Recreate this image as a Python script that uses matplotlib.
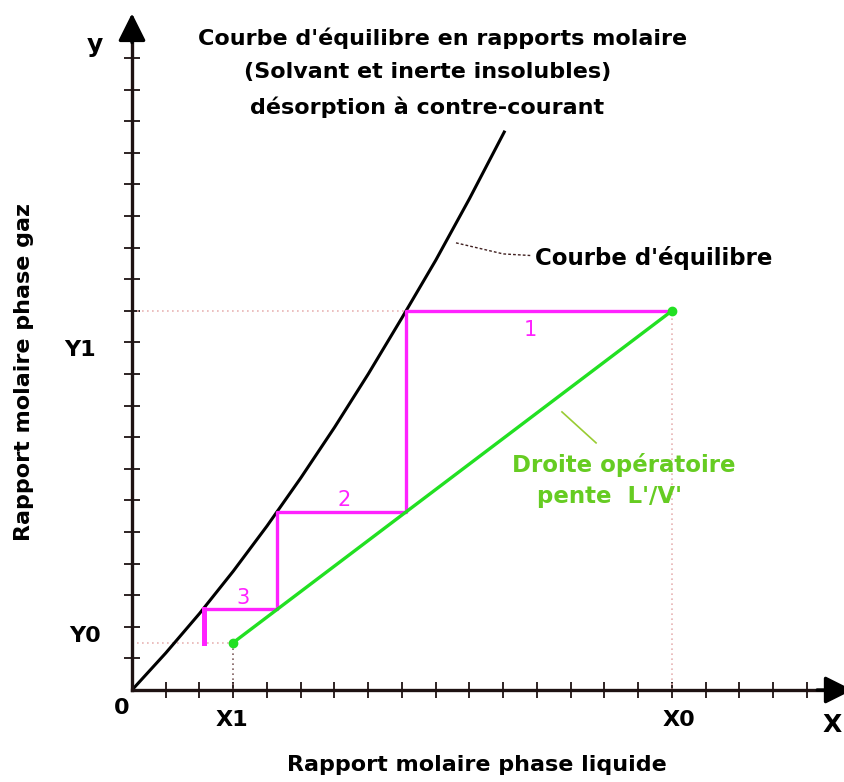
import matplotlib.pyplot as plt

# operating line end points (x in tick units, y in tick units)
X1, Y0 = 3.0, 1.5
X0, Y1 = 16.0, 12.0

# equilibrium curve
eq_x = [0, 1, 2, 3, 4, 5, 6, 7, 8, 9, 10, 11.05]
eq_y = [0, 1.17, 2.42, 3.76, 5.19, 6.71, 8.31, 10.0, 11.78, 13.6, 15.55, 17.7]

# McCabe-Thiele stairs (from X0,Y1 down to Y0)
stair_x = [16, 8.12, 8.12, 4.3, 4.3, 2.13, 2.13]
stair_y = [12, 12, 5.64, 5.64, 2.55, 2.55, 1.5]
stage_labels = ["1", "2", "3"]
stage_x = [11.8, 6.3, 3.3]
stage_y = [11.4, 6.0, 2.9]

tick_pos = list(range(1, 21))

W, H = 845, 782
fig = plt.figure(figsize=(W / 100, H / 100), dpi=100)
ax = fig.add_axes([0, 0, 1, 1])
# pixel mapping: px = 132 + 33.75*x, py = 690 - 31.6*y
ax.set_xlim(-132 / 33.75, (W - 132) / 33.75)
ax.set_ylim(-(H - 690) / 31.6, 690 / 31.6)

axis_col = "#1e1212"
for s in ["top", "right"]:
    ax.spines[s].set_visible(False)
ax.spines["left"].set_position(("data", 0))
ax.spines["bottom"].set_position(("data", 0))
ax.spines["left"].set_bounds(0, 20.7)
ax.spines["bottom"].set_bounds(0, 20.6)
for s in ["left", "bottom"]:
    ax.spines[s].set_linewidth(2.4)
    ax.spines[s].set_color(axis_col)
ax.set_xticks(tick_pos)
ax.set_yticks(tick_pos)
ax.set_xticklabels([])
ax.set_yticklabels([])
ax.tick_params(direction="inout", length=12, width=1.3, color=axis_col)

# arrow heads
ax.annotate("", xy=(0, 21.5), xytext=(0, 20.4), annotation_clip=False,
            arrowprops=dict(arrowstyle="-|>", mutation_scale=42, color="black", lw=2.4))
ax.annotate("", xy=(21.35, 0), xytext=(20.3, 0), annotation_clip=False,
            arrowprops=dict(arrowstyle="-|>", mutation_scale=42, color="black", lw=2.4,
                            shrinkA=0, shrinkB=0))

# dotted guides
guide = dict(color="#e8b4b4", lw=1.2, ls=(0, (1, 2)))
ax.plot([0, X0], [Y1, Y1], **guide)
ax.plot([X0, X0], [0, Y1], **guide)
ax.plot([0, X1], [Y0, Y0], **guide)
ax.plot([X1, X1], [0, Y0], color="#806060", lw=1.2, ls=(0, (1, 2)))

# equilibrium curve
ax.plot(eq_x, eq_y, color="black", lw=2.2, solid_capstyle="butt")

# stairs
ax.plot(stair_x[:-1], stair_y[:-1], color="#ff22ff", lw=2.4)
ax.plot(stair_x[-2:], stair_y[-2:], color="#ff22ff", lw=3.6)
for lab, sx, sy in zip(stage_labels, stage_x, stage_y):
    ax.text(sx, sy, lab, color="#ff22ff", fontsize=15, ha="center", va="center",
            family="DejaVu Sans")

# operating line
ax.plot([X1, X0], [Y0, Y1], color="#22e022", lw=2.4, marker="o", markersize=6,
        markevery=[0, 1])


def ptxt(x, y, s, **kw):
    fig.text(x / W, 1 - y / H, s, **kw)


font = dict(family="DejaVu Sans", fontweight="bold")
ptxt(443, 38, "Courbe d'équilibre en rapports molaire", ha="center", va="center", fontsize=16, **font)
ptxt(428, 72, "(Solvant et inerte insolubles)", ha="center", va="center", fontsize=16, **font)
ptxt(427, 107, "désorption à contre-courant", ha="center", va="center", fontsize=16, **font)

ptxt(535, 258, "Courbe d'équilibre", ha="left", va="center", fontsize=16.5, **font)
ax.plot([9.6, 11.0, 11.8], [14.15, 13.8, 13.75], color="#402020", lw=1, ls=(0, (2, 1.5)))

ptxt(512, 465, "Droite opératoire", ha="left", va="center", fontsize=16.5, color="#66cc22", **font)
ptxt(537, 497, "pente  L'/V'", ha="left", va="center", fontsize=16.5, color="#66cc22", **font)
ax.plot([12.74, 13.75], [8.8, 7.82], color="#99cc33", lw=1.2)

ptxt(95, 45, "y", ha="center", va="center", fontsize=18, **font)
ptxt(122, 708, "0", ha="center", va="center", fontsize=16, **font)
ptxt(232, 720, "X1", ha="center", va="center", fontsize=16, **font)
ptxt(679, 720, "X0", ha="center", va="center", fontsize=16, **font)
ptxt(832, 725, "X", ha="center", va="center", fontsize=18, **font)
ptxt(80, 350, "Y1", ha="center", va="center", fontsize=16, **font)
ptxt(85, 636, "Y0", ha="center", va="center", fontsize=16, **font)
ptxt(477, 765, "Rapport molaire phase liquide", ha="center", va="center", fontsize=16, **font)
ptxt(24, 372, "Rapport molaire phase gaz", ha="center", va="center", fontsize=16,
     rotation=90, **font)

fig.savefig("out.png", dpi=100)
